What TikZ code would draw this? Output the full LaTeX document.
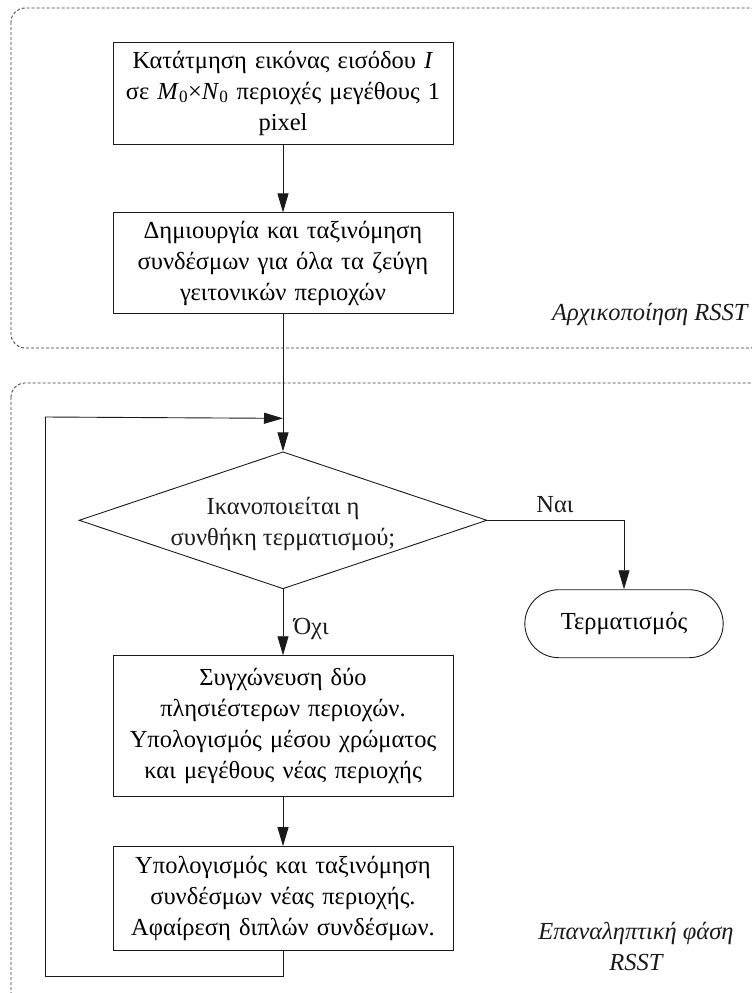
\documentclass[tikz,border=0pt]{standalone}
\usepackage{fontspec}
\setmainfont{Liberation Serif}
\usetikzlibrary{arrows.meta,positioning,calc,shapes.geometric,shapes.misc}
\definecolor{ink}{HTML}{1A1A1A}
\definecolor{frame}{HTML}{3C3C3C}
\newcommand{\rsfont}{\fontsize{24.5}{31}\selectfont}
\tikzset{
  procbox/.style = {rectangle, draw=ink, line width=0.9pt, minimum width=340pt,
                    text width=336pt, inner sep=0pt, align=center, font=\rsfont},
  decbox/.style  = {diamond, draw=ink, line width=0.9pt, minimum width=408pt,
                    minimum height=137pt, inner sep=0pt},
  endbox/.style  = {rounded rectangle, draw=ink, line width=0.9pt, minimum width=205pt,
                    minimum height=68pt, font=\rsfont},
  flow/.style    = {-{Triangle[length=19pt,width=11pt]}, line width=0.9pt, draw=ink},
  link/.style    = {line width=0.9pt, draw=ink},
  phase/.style   = {draw=frame, line width=0.8pt, dash pattern=on 3pt off 2pt, rounded corners=14pt},
  lbl/.style     = {font=\rsfont, text=ink}
}
\begin{document}
\begin{tikzpicture}[node distance=68pt]
  \useasboundingbox (0,0) rectangle (752pt,-993pt);
  % the two phases
  \draw[phase] (11pt,-8pt) rectangle (764pt,-348pt);
  \draw[phase] (11pt,-383pt) rectangle (764pt,-1006pt);
  \node[lbl, anchor=base east, font=\rsfont\itshape] (initlbl) at (751pt,-320pt) {Αρχικοποίηση RSST};
  \node[lbl, align=center, anchor=base, font=\rsfont\itshape] (looplbl) at (636pt,-970pt) {Επαναληπτική φάση\\RSST};

  \node[procbox, minimum height=102pt] (split) at (283pt,-93pt)
    {Κατάτμηση εικόνας εισόδου \textit{I}\\σε \textit{M}\textsubscript{0}×\textit{N}\textsubscript{0} περιοχές μεγέθους 1\\pixel};
  \node[procbox, minimum height=101pt, below=of split] (links)
    {Δημιουργία και ταξινόμηση\\συνδέσμων για όλα τα ζεύγη\\γειτονικών περιοχών};
  \node[decbox, below=137pt of links] (dec) {};
  \node[lbl, align=center] (dectxt) at ($(dec.center)+(0,-4pt)$) {Ικανοποιείται η\\συνθήκη τερματισμού;};
  \node[procbox, minimum height=141pt, below=66pt of dec] (merge)
    {Συγχώνευση δύο\\πλησιέστερων περιοχών.\\Υπολογισμός μέσου χρώματος\\και μεγέθους νέας περιοχής};
  \node[procbox, minimum height=104pt, below=49pt of merge] (update)
    {Υπολογισμός και ταξινόμηση\\συνδέσμων νέας περιοχής.\\Αφαίρεση διπλών συνδέσμων.};
  \node[endbox, anchor=north] (stop) at ($(dec.south)+(341pt,0)$) {Τερματισμός};

  \coordinate (join) at ($(links.south)+(0,-104pt)$);
  \coordinate (back) at (45pt,-417pt);

  \draw[flow] (split) -- (links);
  \draw[flow] (links) -- (dec);
  \draw[flow] (dec.east) -| (stop.north);
  \draw[flow] (dec) -- (merge);
  \draw[flow] (merge) -- (update);
  \draw[link] (update.south) -- ++(0,-25pt) -| (back);
  \draw[flow] (back) -- (join);

  \node[lbl, anchor=base] (yes) at (555pt,-512pt) {Ναι};
  \node[lbl, anchor=base west] (no) at (290pt,-634pt) {Όχι};
\end{tikzpicture}
\end{document}
